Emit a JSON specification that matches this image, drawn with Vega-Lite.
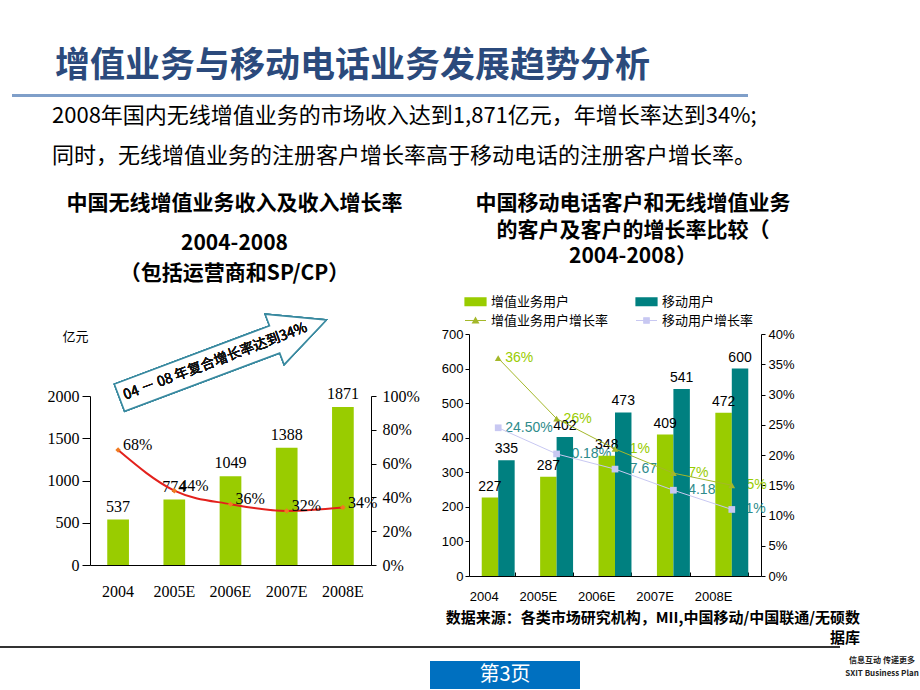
{
  "$schema": "https://vega.github.io/schema/vega-lite/v6.json",
  "background": "white",
  "padding": {"top": 49, "left": 0, "right": 0, "bottom": 0},
  "config": {
    "view": {"stroke": null},
    "font": "Noto Sans CJK SC",
    "axis": {"grid": false, "domainColor": "#000", "tickColor": "#000", "labelColor": "#000", "titleColor": "#000", "labelOverlap": false},
    "title": {"color": "#000", "subtitleColor": "#000"},
    "concat": {"spacing": 0}
  },
  "datasets": {
    "rev": [
      {"year": "2004", "revenue": 537, "growth": 0.68},
      {"year": "2005E", "revenue": 774, "growth": 0.44},
      {"year": "2006E", "revenue": 1049, "growth": 0.36},
      {"year": "2007E", "revenue": 1388, "growth": 0.32},
      {"year": "2008E", "revenue": 1871, "growth": 0.34}
    ],
    "users": [
      {"year": "2004", "series": "增值业务用户", "users": 227},
      {"year": "2004", "series": "移动用户", "users": 335},
      {"year": "2005E", "series": "增值业务用户", "users": 287},
      {"year": "2005E", "series": "移动用户", "users": 402},
      {"year": "2006E", "series": "增值业务用户", "users": 348},
      {"year": "2006E", "series": "移动用户", "users": 473},
      {"year": "2007E", "series": "增值业务用户", "users": 409},
      {"year": "2007E", "series": "移动用户", "users": 541},
      {"year": "2008E", "series": "增值业务用户", "users": 472},
      {"year": "2008E", "series": "移动用户", "users": 600}
    ],
    "rates": [
      {"year": "2004", "series": "增值业务用户增长率", "rate": 0.36, "label": "36%"},
      {"year": "2005E", "series": "增值业务用户增长率", "rate": 0.26, "label": "26%"},
      {"year": "2006E", "series": "增值业务用户增长率", "rate": 0.21, "label": "21%"},
      {"year": "2007E", "series": "增值业务用户增长率", "rate": 0.17, "label": "17%"},
      {"year": "2008E", "series": "增值业务用户增长率", "rate": 0.15, "label": "15%"},
      {"year": "2004", "series": "移动用户增长率", "rate": 0.245, "label": "24.50%"},
      {"year": "2005E", "series": "移动用户增长率", "rate": 0.2018, "label": "20.18%"},
      {"year": "2006E", "series": "移动用户增长率", "rate": 0.1767, "label": "17.67%"},
      {"year": "2007E", "series": "移动用户增长率", "rate": 0.1418, "label": "14.18%"},
      {"year": "2008E", "series": "移动用户增长率", "rate": 0.11, "label": "11%"}
    ]
  },
  "spacing": 8,
  "resolve": {"scale": {"color": "independent", "shape": "independent"}, "legend": {"color": "independent", "shape": "independent"}},
  "vconcat": [
    {
      "spacing": 0,
      "hconcat": [
        {"width": 12, "height": 3, "data": {"values": []}, "mark": "point", "encoding": {}},
        {
          "width": 736, "height": 3,
          "data": {"values": [{}]}, "mark": {"type": "rect", "color": "#7F9FC9"}, "encoding": {},
          "title": {"text": "增值业务与移动电话业务发展趋势分析", "anchor": "start", "frame": "group", "fontSize": 35, "fontWeight": "bold", "color": "#2B4A7C", "dx": 43, "offset": 10}
        }
      ]
    },
    {
      "spacing": 0,
      "resolve": {"scale": {"color": "independent", "shape": "independent"}, "legend": {"color": "independent", "shape": "independent"}},
      "title": {
        "text": ["\u00a0\u00a02008年国内无线增值业务的市场收入达到1,871亿元，年增长率达到34%;", "同时，无线增值业务的注册客户增长率高于移动电话的注册客户增长率。"],
        "anchor": "start", "frame": "group", "fontSize": 22, "fontWeight": "normal", "lineHeight": 40, "color": "#000", "dx": 52, "offset": 24
      },
      "hconcat": [
        {"width": 47, "height": 1, "data": {"values": []}, "mark": "point", "encoding": {}},
        {
          "spacing": 0,
          "vconcat": [
            {"width": 1, "height": 1, "data": {"values": []}, "mark": "point", "encoding": {}},
            {
              "width": 281, "height": 169,
              "data": {"name": "rev"},
              "title": {
                "text": "中国无线增值业务收入及收入增长率",
                "subtitle": ["2004-2008", "（包括运营商和SP/CP）"],
                "fontSize": 21, "fontWeight": "bold", "subtitleFontSize": 21, "subtitleFontWeight": "bold",
                "subtitleColor": "#000", "subtitlePadding": 19, "subtitleLineHeight": 30,
                "anchor": "middle", "frame": "group", "dx": 4, "offset": 27
              },
              "layer": [
                {
                  "layer": [
                    {
                      "mark": {"type": "bar", "color": "#99CC00"},
                      "encoding": {
                        "x": {"field": "year", "type": "nominal", "scale": {"domain": ["2004", "2005E", "2006E", "2007E", "2008E"], "paddingInner": 0.614, "paddingOuter": 0.307},
                          "axis": {"title": null, "labelAngle": 0, "labelFont": "Liberation Serif", "labelFontSize": 16, "ticks": false, "tickSize": 0, "labelPadding": 18, "labelOverlap": false}},
                        "y": {"field": "revenue", "type": "quantitative", "scale": {"domain": [0, 2000], "nice": false},
                          "axis": {"title": "亿元", "titleAngle": 0, "titleX": -28, "titleY": -60, "titleAlign": "left", "titleBaseline": "middle", "titleFont": "Noto Sans CJK SC", "titleFontSize": 13, "titleFontWeight": "normal",
                            "values": [0, 500, 1000, 1500, 2000], "tickCount": 20, "format": "d", "labelFont": "Liberation Serif", "labelFontSize": 16, "tickSize": 8, "labelPadding": 3, "labelOverlap": false}}
                      }
                    },
                    {
                      "mark": {"type": "text", "font": "Liberation Serif", "fontSize": 16, "dy": -8, "baseline": "alphabetic", "color": "#000"},
                      "encoding": {
                        "x": {"field": "year", "type": "nominal"},
                        "y": {"field": "revenue", "type": "quantitative"},
                        "text": {"field": "revenue", "type": "quantitative", "format": "d"}
                      }
                    },
                    {
                      "mark": {"type": "point", "shape": "M-1,-0.131L0.5,-0.131L0.5,-0.244L1,0L0.5,0.244L0.5,0.131L-1,0.131Z", "size": 48841, "angle": 339.4, "filled": true, "fill": "white", "stroke": "#3A8AA0", "strokeWidth": 1.5, "opacity": 1},
                      "encoding": {"x": {"datum": "2006E", "bandPosition": 0.15}, "y": {"datum": 2440}}
                    },
                    {
                      "mark": {"type": "text", "text": "04 － 08 年复合增长率达到34%", "angle": 339.4, "fontSize": 14, "fontWeight": "normal", "dx": -8, "color": "#111", "baseline": "middle"},
                      "encoding": {"x": {"datum": "2006E", "bandPosition": 0.15}, "y": {"datum": 2440}}
                    }
                  ]
                },
                {
                  "layer": [
                    {
                      "mark": {"type": "line", "color": "#E3211C", "strokeWidth": 2, "interpolate": "monotone"},
                      "encoding": {
                        "x": {"field": "year", "type": "nominal"},
                        "y": {"field": "growth", "type": "quantitative", "scale": {"domain": [0, 1], "nice": false},
                          "axis": {"orient": "right", "title": null, "format": ".0%", "values": [0, 0.2, 0.4, 0.6, 0.8, 1], "tickCount": 20, "labelFont": "Liberation Serif", "labelFontSize": 16, "tickSize": 5, "labelPadding": 6, "labelOverlap": false}}
                      }
                    },
                    {
                      "mark": {"type": "point", "shape": "diamond", "filled": true, "color": "#F07A22", "size": 30, "opacity": 1},
                      "encoding": {
                        "x": {"field": "year", "type": "nominal"},
                        "y": {"field": "growth", "type": "quantitative"}
                      }
                    },
                    {
                      "mark": {"type": "text", "font": "Liberation Serif", "fontSize": 16, "align": "left", "dx": 5, "dy": -5, "color": "#000"},
                      "encoding": {
                        "x": {"field": "year", "type": "nominal"},
                        "y": {"field": "growth", "type": "quantitative"},
                        "text": {"field": "growth", "type": "quantitative", "format": ".0%"}
                      }
                    }
                  ]
                }
              ],
              "resolve": {"scale": {"y": "independent"}}
            }
          ]
        },
        {"width": 21, "height": 1, "data": {"values": []}, "mark": "point", "encoding": {}},
        {
          "spacing": 0,
          "resolve": {"scale": {"color": "independent", "shape": "independent"}, "legend": {"color": "independent", "shape": "independent"}},
          "vconcat": [
            {"width": 1, "height": 1, "data": {"values": []}, "mark": "point", "encoding": {}},
            {
              "width": 292, "height": 242,
              "title": {
                "text": ["中国移动电话客户和无线增值业务", "的客户及客户的增长率比较（", "2004-2008）"],
                "fontSize": 21, "fontWeight": "bold", "lineHeight": 26.5, "anchor": "middle", "frame": "group", "dx": 18, "offset": 23
              },
              "layer": [
                {
                  "data": {"name": "rates"},
                  "layer": [
                    {
                      "transform": [{"filter": "datum.series == '增值业务用户增长率'"}],
                      "mark": {"type": "text", "align": "left", "dx": 7, "font": "Liberation Sans", "fontSize": 14, "color": "#99CC00", "baseline": "middle"},
                      "encoding": {
                        "x": {"field": "year", "type": "nominal"},
                        "y": {"field": "rate", "type": "quantitative", "scale": {"domain": [0, 0.4], "nice": false}, "axis": null},
                        "text": {"field": "label"}
                      }
                    },
                    {
                      "transform": [{"filter": "datum.series == '移动用户增长率'"}],
                      "mark": {"type": "text", "align": "left", "dx": 7, "font": "Liberation Sans", "fontSize": 14, "color": "#2E8B8B", "baseline": "middle"},
                      "encoding": {
                        "x": {"field": "year", "type": "nominal"},
                        "y": {"field": "rate", "type": "quantitative"},
                        "text": {"field": "label"}
                      }
                    }
                  ]
                },
                {
                  "data": {"name": "users"},
                  "layer": [
                    {
                      "mark": {"type": "bar"},
                      "encoding": {
                        "x": {"field": "year", "type": "nominal", "scale": {"domain": ["2004", "2005E", "2006E", "2007E", "2008E"], "paddingInner": 0.436, "paddingOuter": 0.218},
                          "axis": {"title": null, "labelAngle": 0, "labelFont": "Liberation Sans", "labelFontSize": 13, "tickBand": "extent", "tickSize": -4, "labelPadding": 24, "labelOverlap": false}},
                        "xOffset": {"field": "series", "type": "nominal", "sort": null, "scale": {"paddingInner": 0, "paddingOuter": 0}},
                        "y": {"field": "users", "type": "quantitative", "scale": {"domain": [0, 700], "nice": false},
                          "axis": {"orient": "left", "title": null, "values": [0, 100, 200, 300, 400, 500, 600, 700], "tickCount": 20, "labelFont": "Liberation Sans", "labelFontSize": 13, "tickSize": 4, "labelPadding": 2, "labelOverlap": false}},
                        "color": {
                          "field": "series", "type": "nominal",
                          "scale": {"domain": ["增值业务用户", "移动用户", "增值业务用户增长率", "移动用户增长率"], "range": ["#99CC00", "#008080", "#A4B82A", "#C8C8F2"]},
                          "legend": {
                            "orient": "none", "legendX": -5, "legendY": -44, "columns": 2, "direction": "horizontal", "title": null,
                            "labelFont": "Noto Sans CJK SC", "labelFontSize": 13, "labelColor": "#000", "symbolSize": 441,
                            "columnPadding": 24, "rowPadding": -1, "labelOffset": 4, "padding": 0, "symbolStrokeWidth": 1.2,
                            "encode": {
                              "symbols": {
                                "update": {
                                  "shape": {"signal": "(datum.value == '增值业务用户' || datum.value == '移动用户') ? 'M-1,-0.36H1V0.36H-1Z' : (datum.value == '增值业务用户增长率' ? 'M-1,0H1M-0.28,0.24L0,-0.26L0.28,0.24Z' : 'M-1,0H1M-0.26,-0.26H0.26V0.26H-0.26Z')"},
                                  "fill": {"signal": "datum.value == '增值业务用户' ? '#99CC00' : (datum.value == '移动用户' ? '#008080' : (datum.value == '增值业务用户增长率' ? '#99CC00' : '#CCCCFF'))"},
                                  "stroke": {"signal": "datum.value == '增值业务用户' ? '#99CC00' : (datum.value == '移动用户' ? '#008080' : (datum.value == '增值业务用户增长率' ? '#A4B82A' : '#C8C8F2'))"},
                                  "opacity": {"value": 1},
                                  "fillOpacity": {"value": 1}
                                }
                              }
                            }
                          }
                        }
                      }
                    },
                    {
                      "mark": {"type": "text", "dy": -7, "font": "Liberation Sans", "fontSize": 14, "color": "#000", "baseline": "alphabetic"},
                      "encoding": {
                        "x": {"field": "year", "type": "nominal"},
                        "xOffset": {"field": "series", "type": "nominal", "sort": null},
                        "y": {"field": "users", "type": "quantitative"},
                        "text": {"field": "users", "type": "quantitative"}
                      }
                    }
                  ]
                },
                {
                  "data": {"name": "rates"},
                  "layer": [
                    {
                      "mark": {"type": "line", "strokeWidth": 1},
                      "encoding": {
                        "x": {"field": "year", "type": "nominal"},
                        "y": {"field": "rate", "type": "quantitative", "scale": {"domain": [0, 0.4], "nice": false},
                          "axis": {"orient": "right", "title": null, "format": ".0%", "values": [0, 0.05, 0.1, 0.15, 0.2, 0.25, 0.3, 0.35, 0.4], "tickCount": 20, "labelFont": "Liberation Sans", "labelFontSize": 13, "tickSize": 4, "labelPadding": 3, "labelOverlap": false}},
                        "color": {"field": "series", "type": "nominal"}
                      }
                    },
                    {
                      "mark": {"type": "point", "filled": true, "opacity": 1, "size": 45},
                      "encoding": {
                        "x": {"field": "year", "type": "nominal"},
                        "y": {"field": "rate", "type": "quantitative"},
                        "shape": {"field": "series", "type": "nominal", "scale": {"domain": ["增值业务用户增长率", "移动用户增长率"], "range": ["triangle-up", "square"]}, "legend": null},
                        "color": {"field": "series", "type": "nominal"}
                      }
                    }
                  ]
                }
              ],
              "resolve": {"scale": {"y": "independent"}}
            }
          ]
        }
      ]
    },
    {
      "width": 840, "height": 2,
      "data": {"values": [{}]}, "mark": {"type": "rect", "color": "#333333"}, "encoding": {},
      "title": {"text": ["数据来源：各类市场研究机构，MII,中国移动/中国联通/无硕数", "据库"], "anchor": "end", "align": "right", "frame": "group", "fontSize": 15, "fontWeight": "bold", "lineHeight": 20, "dx": 20, "offset": 0, "color": "#000"}
    },
    {
      "spacing": 0,
      "hconcat": [
        {"width": 430, "height": 28, "data": {"values": []}, "mark": "point", "encoding": {}},
        {
          "width": 150, "height": 28,
          "data": {"values": [{"t": "第3页"}]},
          "layer": [
            {"mark": {"type": "rect", "color": "#0070C0"}, "encoding": {}},
            {"mark": {"type": "text", "color": "white", "fontSize": 20, "baseline": "middle"}, "encoding": {"text": {"field": "t"}}}
          ]
        },
        {"width": 265, "height": 28, "data": {"values": []}, "mark": "point", "encoding": {}},
        {
          "width": 72, "height": 26,
          "data": {"values": [{"r": 1, "t": "信息互动 传递更多"}, {"r": 2, "t": "SXIT Business Plan"}]},
          "mark": {"type": "text", "fontSize": 8, "fontWeight": "bold", "color": "#222", "dy": -7},
          "encoding": {"y": {"field": "r", "type": "ordinal", "axis": null}, "text": {"field": "t"}}
        }
      ]
    }
  ]
}
